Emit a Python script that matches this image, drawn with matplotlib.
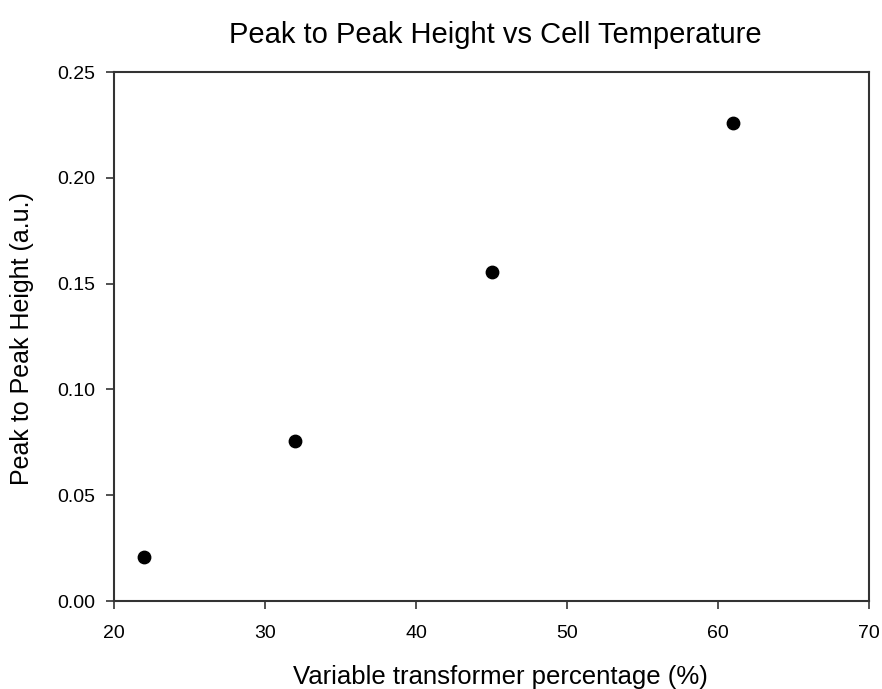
import matplotlib.pyplot as plt

plt.rcParams['font.family'] = ['Liberation Sans', 'DejaVu Sans']

# data
transformer_pct = [22, 32, 45, 61]
peak_height = [0.0208, 0.0757, 0.1557, 0.2257]

x_ticks = [20, 30, 40, 50, 60, 70]
y_ticks = [0.00, 0.05, 0.10, 0.15, 0.20, 0.25]

fig = plt.figure(figsize=(8.82, 6.89), dpi=100)
ax = fig.add_axes([0.1293, 0.1277, 0.856, 0.7678])

ax.scatter(transformer_pct, peak_height, s=80, color='black', zorder=3)

ax.set_xlim(20, 70)
ax.set_ylim(0, 0.25)
ax.set_xticks(x_ticks)
ax.set_yticks(y_ticks)
ax.set_yticklabels([f"{v:.2f}" for v in y_ticks])
ax.tick_params(direction='out', length=6, width=1.2, labelsize=14, color='#333333', pad=7.5)
ax.tick_params(axis='x', pad=11)

for sp in ax.spines.values():
    sp.set_linewidth(1.5)
    sp.set_color('#333333')

fig.text(495 / 882, 1 - 35 / 689, "Peak to Peak Height vs Cell Temperature", fontsize=21, ha='center', va='center')
fig.text(500 / 882, 1 - 677 / 689, "Variable transformer percentage (%)", fontsize=18.5, ha='center', va='center')
fig.text(22 / 882, 1 - 339 / 689, "Peak to Peak Height (a.u.)", fontsize=18, rotation=90,
         ha='center', va='center')

fig.savefig("out.png", dpi=100)
